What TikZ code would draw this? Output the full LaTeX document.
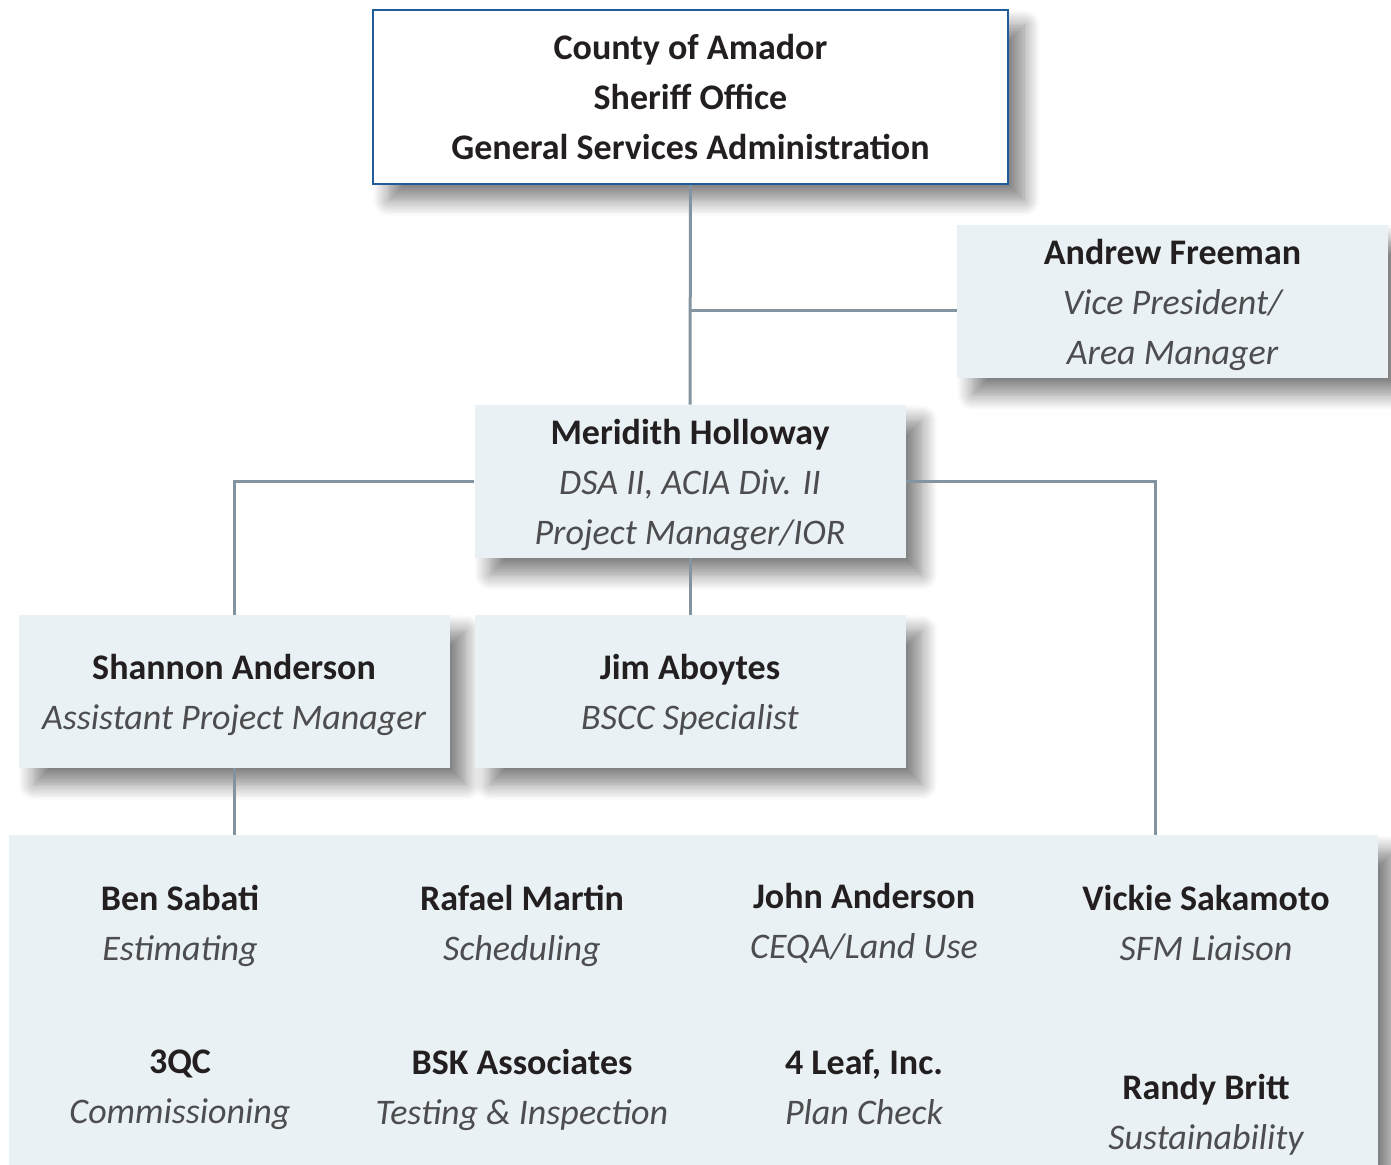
\documentclass[tikz,border=0pt]{standalone}
\usepackage{fontspec}
\setmainfont{Carlito}
\usetikzlibrary{shadows.blur}
\definecolor{panel}{HTML}{E9F1F5}
\definecolor{linkgray}{HTML}{8393A0}
\definecolor{frameblue}{HTML}{1F5C99}
\definecolor{rolegray}{HTML}{4D4D4F}
\definecolor{namedark}{HTML}{231F20}
\newcommand{\nm}{\bfseries\color{namedark}}
\newcommand{\rl}{\mdseries\itshape\color{rolegray}}
\begin{document}
\begin{tikzpicture}[x=0.5pt, y=-0.5pt,
  every node/.style = {align=center, font=\fontsize{18}{25}\selectfont,
    text depth=0pt},
  shade/.style = {blur shadow={shadow xshift=8pt, shadow yshift=-8pt,
    shadow blur radius=8pt, shadow blur steps=12, shadow opacity=50}},
  box/.style = {shape=rectangle, fill=panel, minimum width=215.5pt,
    minimum height=76.5pt, shade},
  topbox/.style = {box, fill=white, draw=frameblue, line width=1.25pt,
    minimum width=317.5pt, minimum height=87pt, text depth=-3pt},
  member/.style = {inner sep=0pt},
  link/.style = {draw=linkgray, line width=1.5pt}
  ]
  \useasboundingbox (0,0) rectangle (1391,1165);

  % team panel along the bottom
  \node[box, minimum width=684.5pt, minimum height=170pt, anchor=north west]
    (team) at (9,835) {};

  \node[topbox] (county) at (690.5,97)
    {\nm County of Amador\\ \nm Sheriff Office\\ \nm General Services Administration};
  \node[box] (freeman) at (1172.5,301.5) {\nm Andrew Freeman\\ \rl Vice President/\\ \rl Area Manager};
  \node[box] (holloway) at (690,481.5) {\nm Meridith Holloway\\ \rl DSA II, ACIA Div. II\\ \rl Project Manager/IOR};
  \node[box] (sanderson) at (234,691.5) {\nm Shannon Anderson\\ \rl Assistant Project Manager};
  \node[box] (aboytes) at (690,691.5) {\nm Jim Aboytes\\ \rl BSCC Specialist};

  % team members
  \node[member] (sabati) at (180,923) {\nm Ben Sabati\\ \rl Estimating};
  \node[member] (martin) at (522,923) {\nm Rafael Martin\\ \rl Scheduling};
  \node[member] (janderson) at (864,921) {\nm John Anderson\\ \rl CEQA/Land Use};
  \node[member] (sakamoto) at (1206,923) {\nm Vickie Sakamoto\\ \rl SFM Liaison};
  \node[member] (qc) at (180,1087) {\nm 3QC\\ \rl Commissioning};
  \node[member] (bsk) at (522,1087) {\nm BSK Associates\\ \rl Testing \& Inspection};
  \node[member] (leaf) at (864,1087) {\nm 4 Leaf, Inc.\\ \rl Plan Check};
  \node[member] (britt) at (1206,1112) {\nm Randy Britt\\ \rl Sustainability};

  \coordinate (tee) at (690,311);
  \coordinate (drop) at (1155,835);

  \draw[link] (county) -- (holloway);
  \draw[link] (tee) -- (tee -| freeman.west);
  \draw[link] (holloway.west) -| (sanderson.north);
  \draw[link] (holloway.east) -| (drop);
  \draw[link] (holloway) -- (aboytes);
  \draw[link] (sanderson.south) -- (sanderson.south |- team.north);
\end{tikzpicture}
\end{document}
